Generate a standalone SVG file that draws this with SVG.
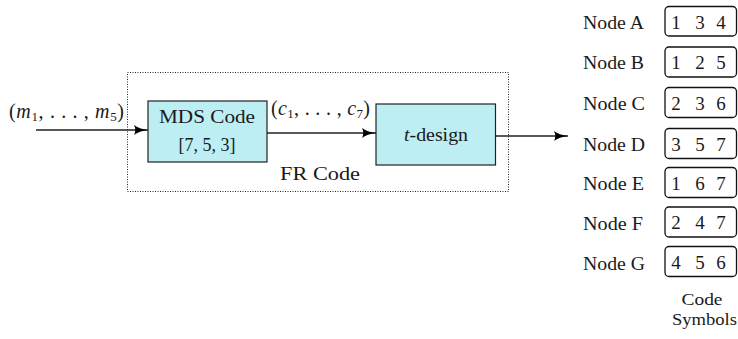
<svg xmlns="http://www.w3.org/2000/svg" width="738" height="339" viewBox="0 0 738 339">
<style>
text{font-family:"Liberation Serif","DejaVu Serif",serif;fill:#1a1a1a}
.t{font-size:19px}
.it{font-style:italic}
.sub{font-size:13px}
.blk{fill:#bdeef4;stroke:#222;stroke-width:1.2}
.sym{fill:#fff;stroke:#111;stroke-width:1.3}
.ln{stroke:#222;stroke-width:1.3;fill:none}
.dig{font-size:19px;text-anchor:middle}
.nl{font-size:18px}
</style>
<defs>
<marker id="ah" viewBox="0 0 14 10" refX="14" refY="5" markerWidth="14" markerHeight="10" markerUnits="userSpaceOnUse" orient="auto">
<path d="M0,0 Q5,4 14,5 Q5,6 0,10 Q2.5,5 0,0 Z" fill="#000"/>
</marker>
</defs>
<g id="fr-code">
<rect x="127.5" y="72.5" width="381" height="119" fill="none" stroke="#222" stroke-width="1" stroke-dasharray="1,1.5"/>
<text class="t" x="320" y="180" text-anchor="middle" textLength="80" lengthAdjust="spacingAndGlyphs">FR Code</text>
</g>
<g id="mds">
<rect class="blk" x="148" y="101" width="119" height="61"/>
<text class="t" x="207" y="123" text-anchor="middle" textLength="96" lengthAdjust="spacingAndGlyphs">MDS Code</text>
<text class="t" x="207" y="151" text-anchor="middle" textLength="57" lengthAdjust="spacingAndGlyphs">[7, 5, 3]</text>
</g>
<g id="tdesign">
<rect class="blk" x="376" y="104" width="119.5" height="61"/>
<text class="t" x="436" y="141" text-anchor="middle" textLength="64" lengthAdjust="spacingAndGlyphs"><tspan class="it">t</tspan>-design</text>
</g>
<g id="connectors">
<line class="ln" x1="36" y1="130" x2="148" y2="130" marker-end="url(#ah)"/>
<line class="ln" x1="267" y1="133" x2="376" y2="133" marker-end="url(#ah)"/>
<line class="ln" x1="495.5" y1="136" x2="568" y2="136" marker-end="url(#ah)"/>
<text class="t" x="9" y="118" textLength="115" lengthAdjust="spacing" style="font-size:20px">(<tspan class="it">m</tspan><tspan class="sub" dy="3">1</tspan><tspan dy="-3">, . . . , </tspan><tspan class="it">m</tspan><tspan class="sub" dy="3">5</tspan><tspan dy="-3">)</tspan></text>
<text class="t" x="271" y="115" textLength="99" lengthAdjust="spacing" style="font-size:20px">(<tspan class="it">c</tspan><tspan class="sub" dy="3">1</tspan><tspan dy="-3">, . . . , </tspan><tspan class="it">c</tspan><tspan class="sub" dy="3">7</tspan><tspan dy="-3">)</tspan></text>
</g>
<g id="node-a">
<text class="nl" x="583" y="28.5" textLength="61" lengthAdjust="spacingAndGlyphs">Node A</text>
<rect class="sym" x="665" y="6.5" width="71.5" height="29.5" rx="4"/>
<text class="dig" x="676" y="28.5">1</text><text class="dig" x="700" y="28.5">3</text><text class="dig" x="721" y="28.5">4</text>
</g>
<g id="node-b">
<text class="nl" x="583" y="69" textLength="61" lengthAdjust="spacingAndGlyphs">Node B</text>
<rect class="sym" x="665" y="47" width="71.5" height="30" rx="4"/>
<text class="dig" x="676" y="69">1</text><text class="dig" x="700" y="69">2</text><text class="dig" x="721" y="69">5</text>
</g>
<g id="node-c">
<text class="nl" x="583" y="109.5" textLength="62" lengthAdjust="spacingAndGlyphs">Node C</text>
<rect class="sym" x="665" y="87.5" width="71.5" height="30" rx="4"/>
<text class="dig" x="676" y="109.5">2</text><text class="dig" x="700" y="109.5">3</text><text class="dig" x="721" y="109.5">6</text>
</g>
<g id="node-d">
<text class="nl" x="583" y="150.5" textLength="62" lengthAdjust="spacingAndGlyphs">Node D</text>
<rect class="sym" x="665" y="128.5" width="71.5" height="30" rx="4"/>
<text class="dig" x="676" y="150.5">3</text><text class="dig" x="700" y="150.5">5</text><text class="dig" x="721" y="150.5">7</text>
</g>
<g id="node-e">
<text class="nl" x="583" y="190" textLength="61" lengthAdjust="spacingAndGlyphs">Node E</text>
<rect class="sym" x="665" y="167.5" width="71.5" height="30" rx="4"/>
<text class="dig" x="676" y="189.5">1</text><text class="dig" x="700" y="189.5">6</text><text class="dig" x="721" y="189.5">7</text>
</g>
<g id="node-f">
<text class="nl" x="583" y="230" textLength="60" lengthAdjust="spacingAndGlyphs">Node F</text>
<rect class="sym" x="665" y="207" width="71.5" height="30" rx="4"/>
<text class="dig" x="676" y="229">2</text><text class="dig" x="700" y="229">4</text><text class="dig" x="721" y="229">7</text>
</g>
<g id="node-g">
<text class="nl" x="583" y="270" textLength="62" lengthAdjust="spacingAndGlyphs">Node G</text>
<rect class="sym" x="665" y="246.5" width="71.5" height="30" rx="4"/>
<text class="dig" x="676" y="269">4</text><text class="dig" x="700" y="269">5</text><text class="dig" x="721" y="269">6</text>
</g>
<g id="caption">
<text class="nl" x="702" y="305" text-anchor="middle" textLength="41" lengthAdjust="spacingAndGlyphs" style="font-size:17px">Code</text>
<text class="nl" x="704.5" y="325" text-anchor="middle" textLength="65" lengthAdjust="spacingAndGlyphs" style="font-size:17px">Symbols</text>
</g>
</svg>
